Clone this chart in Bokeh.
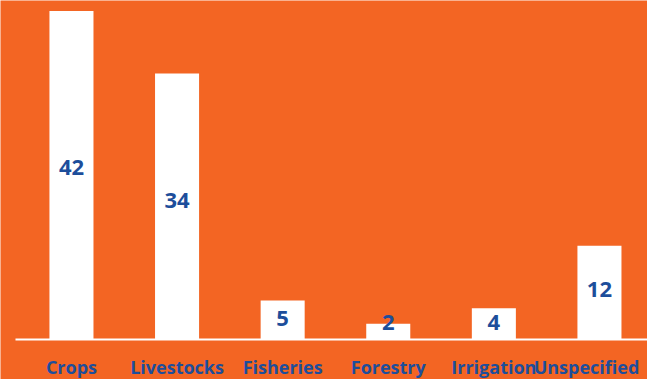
from bokeh.plotting import figure
from bokeh.models import ColumnDataSource, Range1d
from bokeh.core.properties import value
from bokeh.embed import file_html
from bokeh.resources import INLINE

categories = ["Crops", "Livestocks", "Fisheries", "Forestry", "Irrigation", "Unspecified"]
values = [42, 34, 5, 2, 4, 12]

ORANGE = "#F36523"
BLUE = "#1D4E9B"
FONT = "Open Sans"

idx = list(range(len(categories)))
src = ColumnDataSource(dict(
    x=idx,
    top=values,
    label=[str(v) for v in values],
    ymid=[max(0.52 * v + 0.1, 2.2) for v in values],
    cat=categories,
    ycat=[0] * len(categories),
    xoff=[0, 0, 0, 0, 0, -13],
))

p = figure(width=647, height=379, output_backend="svg", toolbar_location=None,
           x_range=Range1d(-0.672, 5.455), y_range=Range1d(-5.115, 43.35),
           min_border_left=0, min_border_right=0, min_border_top=0, min_border_bottom=0)
p.background_fill_color = ORANGE
p.border_fill_color = ORANGE
p.outline_line_color = None
p.grid.visible = False
p.axis.visible = False

p.vbar(x="x", top="top", bottom=0, width=0.417, source=src,
       fill_color="white", line_color=None)
p.segment(x0=[-0.53], y0=[0], x1=[5.49], y1=[0], line_color="white", line_width=2)

p.text(x="x", y="ymid", text="label", source=src, text_align="center",
       text_baseline="middle", text_color=BLUE, text_font=value(FONT),
       text_font_style="bold", text_font_size="22px")

p.text(x="x", y="ycat", text="cat", source=src, text_align="center",
       text_baseline="middle", x_offset="xoff", y_offset=27, text_color=BLUE,
       text_font=value(FONT), text_font_style="bold", text_font_size="18px")

open("out.html", "w").write(file_html(p, INLINE))
